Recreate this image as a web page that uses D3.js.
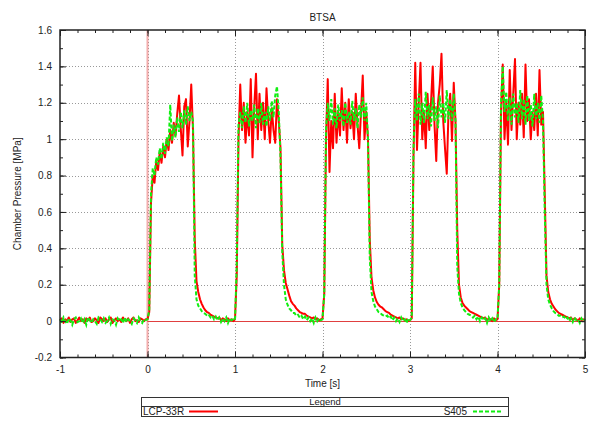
<!DOCTYPE html>
<html>
<head>
<meta charset="utf-8">
<script src="https://cdn.jsdelivr.net/npm/d3@7"></script>
<style>
  body { margin: 0; background: #fff; }
  text { font-family: "Liberation Sans", Arial, sans-serif; fill: #222; }
</style>
</head>
<body>
<svg id="svg" width="592" height="421"></svg>
<script>
// sampling of both channels: first sample time and step [s]
const t0 = -1
const dt = 0.02

// S405 chamber pressure [MPa], one value per dt from -1 s to 5 s
const s405 = [
  0.010, -0.010, 0.020, 0.000, -0.015, 0.015, 0.005, -0.020, 0.010, 0.020,
  -0.005, 0.000, 0.015, -0.010, 0.010, -0.020, 0.020, 0.005, -0.010, 0.010,
  0.000, -0.015, 0.020, 0.010, -0.005, 0.015, -0.010, 0.000, 0.020, -0.015,
  0.010, 0.005, -0.020, 0.015, 0.000, 0.010, -0.010, 0.020, -0.005, 0.010,
  0.000, -0.015, 0.015, 0.005, -0.010, 0.020, 0.000, -0.010, 0.010, 0.005,
  // 0 s
  0.010, 0.060, 0.700, 0.840, 0.800, 0.900, 0.860, 0.950, 0.890, 0.980,
  0.920, 1.010, 0.960, 1.190, 0.990, 1.080, 1.010, 1.120, 1.040, 1.150,
  1.060, 1.160, 1.080, 1.180, 1.100, 1.150, 1.100, 0.250, 0.120, 0.085,
  0.070, 0.055, 0.045, 0.040, 0.030, 0.035, 0.020, 0.030, 0.010, 0.025,
  0.005, 0.020, -0.005, 0.015, 0.000, 0.020, -0.010, 0.015, 0.005, 0.010,
  // 1 s
  0.005, 0.300, 1.080, 1.150, 1.060, 1.180, 1.090, 1.200, 1.070, 1.160,
  1.100, 1.190, 1.060, 1.170, 1.090, 1.200, 1.080, 1.150, 1.070, 1.180,
  1.100, 1.210, 1.120, 1.240, 1.290, 1.150, 0.900, 0.380, 0.200, 0.120,
  0.090, 0.070, 0.060, 0.045, 0.045, 0.030, 0.035, 0.020, 0.030, 0.010,
  0.025, 0.005, 0.020, 0.000, 0.015, -0.010, 0.020, 0.000, 0.015, 0.005,
  // 2 s
  0.010, 0.150, 1.050, 1.200, 1.100, 1.220, 1.080, 1.170, 1.060, 1.190,
  1.100, 1.160, 1.070, 1.200, 1.090, 1.150, 1.080, 1.210, 1.100, 1.170,
  1.060, 1.190, 1.120, 1.230, 1.100, 1.200, 1.000, 0.350, 0.160, 0.110,
  0.080, 0.065, 0.050, 0.045, 0.035, 0.030, 0.025, 0.030, 0.015, 0.025,
  0.005, 0.020, 0.000, 0.015, -0.005, 0.020, 0.000, 0.010, -0.010, 0.015,
  // 3 s
  0.005, 0.020, 0.950, 1.220, 1.100, 1.250, 1.080, 1.200, 1.090, 1.260,
  1.110, 1.190, 1.070, 1.230, 1.100, 1.180, 1.060, 1.240, 1.120, 1.200,
  1.090, 1.270, 1.110, 1.220, 1.100, 1.250, 1.100, 0.300, 0.150, 0.100,
  0.075, 0.060, 0.050, 0.040, 0.035, 0.030, 0.020, 0.030, 0.010, 0.025,
  0.000, 0.020, 0.005, 0.015, -0.010, 0.020, 0.000, 0.015, -0.005, 0.010,
  // 4 s
  0.010, 0.200, 1.200, 1.400, 1.150, 1.260, 1.100, 1.230, 1.080, 1.250,
  1.120, 1.200, 1.090, 1.270, 1.110, 1.220, 1.080, 1.240, 1.100, 1.190,
  1.070, 1.250, 1.110, 1.200, 1.090, 1.240, 1.100, 0.600, 0.200, 0.120,
  0.090, 0.070, 0.055, 0.045, 0.040, 0.030, 0.030, 0.020, 0.025, 0.010,
  0.020, 0.000, 0.015, -0.005, 0.020, 0.005, 0.010, -0.010, 0.015, 0.000,
  0.010
]

// LCP-33R chamber pressure [MPa], same sampling
const lcp33r = [
  0.005, 0.015, -0.010, 0.010, 0.000, 0.020, -0.005, 0.010, 0.015, -0.010,
  0.005, 0.020, 0.000, 0.010, -0.010, 0.015, 0.005, 0.020, -0.005, 0.000,
  0.015, 0.005, -0.010, 0.020, 0.010, 0.000, 0.015, -0.005, 0.010, 0.020,
  -0.010, 0.005, 0.015, 0.000, 0.010, -0.005, 0.020, 0.005, 0.000, 0.015,
  -0.010, 0.010, 0.020, 0.000, 0.005, -0.005, 0.015, 0.010, 0.000, 0.010,
  // 0 s
  0.010, 0.050, 0.650, 0.800, 0.760, 0.880, 0.830, 0.930, 0.870, 0.960,
  0.900, 1.000, 0.940, 1.050, 0.980, 1.090, 1.020, 1.140, 1.240, 1.060,
  0.910, 1.180, 1.220, 0.960, 1.100, 1.300, 1.050, 0.450, 0.220, 0.160,
  0.120, 0.095, 0.075, 0.060, 0.050, 0.045, 0.035, 0.030, 0.025, 0.020,
  0.015, 0.020, 0.005, 0.015, 0.010, 0.000, 0.015, 0.005, 0.010, 0.000,
  // 1 s
  0.010, 0.250, 1.000, 1.300, 1.050, 1.200, 0.980, 1.150, 1.020, 1.330,
  0.900, 1.180, 1.360, 1.000, 1.250, 1.050, 1.200, 1.000, 1.280, 1.100,
  0.980, 1.170, 1.050, 0.980, 1.220, 1.100, 0.950, 0.420, 0.280, 0.210,
  0.175, 0.140, 0.110, 0.095, 0.085, 0.070, 0.060, 0.050, 0.045, 0.040,
  0.040, 0.030, 0.025, 0.020, 0.015, 0.020, 0.010, 0.015, 0.005, 0.010,
  // 2 s
  0.015, 0.150, 1.000, 1.330, 0.820, 1.100, 0.950, 1.250, 0.980, 1.150,
  1.020, 1.280, 1.050, 1.200, 0.980, 1.220, 1.060, 1.150, 1.000, 1.250,
  1.080, 0.950, 1.150, 1.350, 1.000, 1.150, 1.000, 0.450, 0.240, 0.170,
  0.130, 0.105, 0.090, 0.080, 0.075, 0.065, 0.055, 0.050, 0.045, 0.035,
  0.030, 0.025, 0.020, 0.015, 0.020, 0.010, 0.015, 0.005, 0.010, 0.000,
  // 3 s
  0.005, 0.015, 0.900, 1.420, 0.940, 1.200, 1.420, 1.000, 1.150, 0.950,
  1.250, 1.050, 1.200, 1.400, 1.080, 0.880, 1.200, 1.300, 1.470, 1.100,
  0.950, 0.810, 1.150, 1.250, 0.990, 1.310, 1.100, 0.500, 0.200, 0.130,
  0.100, 0.085, 0.075, 0.065, 0.055, 0.050, 0.045, 0.040, 0.035, 0.030,
  0.025, 0.020, 0.015, 0.020, 0.005, 0.015, 0.010, 0.000, 0.015, 0.005,
  // 4 s
  0.010, 0.200, 1.150, 1.410, 1.000, 1.200, 0.970, 1.380, 1.050, 1.250,
  1.440, 1.000, 1.200, 1.080, 1.250, 1.010, 1.410, 1.100, 1.220, 1.000,
  1.150, 1.050, 1.250, 1.020, 1.380, 1.080, 1.150, 0.700, 0.250, 0.160,
  0.120, 0.095, 0.080, 0.065, 0.055, 0.045, 0.040, 0.035, 0.030, 0.025,
  0.020, 0.015, 0.020, 0.005, 0.015, 0.010, 0.000, 0.015, 0.005, 0.010,
  0.005
]

const xTicks = [-1, 0, 1, 2, 3, 4, 5]
const yTicks = [-0.2, 0, 0.2, 0.4, 0.6, 0.8, 1, 1.2, 1.4, 1.6]
const seriesNames = ["LCP-33R", "S405"]

const svg = d3.select("#svg")
const W = 592, H = 421
const m = {left: 60, right: 7, top: 30, bottom: 63.5}

const x = d3.scaleLinear().domain([-1, 5]).range([m.left, W - m.right])
const y = d3.scaleLinear().domain([-0.2, 1.6]).range([H - m.bottom, m.top])

const x0 = x.range()[0], x1 = x.range()[1]
const y0 = y.range()[0], y1 = y.range()[1]

// grid
const grid = svg.append("g").attr("stroke", "#999").attr("stroke-width", 1).attr("stroke-dasharray", "1,2")
grid.selectAll(".gx").data(xTicks.slice(1, -1)).enter().append("line")
  .attr("x1", d => Math.round(x(d)) + 0.5).attr("x2", d => Math.round(x(d)) + 0.5)
  .attr("y1", y1).attr("y2", y0)
grid.selectAll(".gy").data(yTicks.slice(1, -1)).enter().append("line")
  .attr("x1", x0).attr("x2", x1)
  .attr("y1", d => Math.round(y(d)) + 0.5).attr("y2", d => Math.round(y(d)) + 0.5)

// zero reference lines
svg.append("line")
  .attr("x1", x(0)).attr("x2", x(0)).attr("y1", y1).attr("y2", y0)
  .attr("stroke", "#f08a8a").attr("stroke-opacity", 0.7).attr("stroke-width", 2)
svg.append("line")
  .attr("x1", x(0)).attr("x2", x1).attr("y1", Math.round(y(0)) + 0.5).attr("y2", Math.round(y(0)) + 0.5)
  .attr("stroke", "#e04040").attr("stroke-width", 1)

// data
const line = d3.line().x((d, i) => x(t0 + i * dt)).y(d => y(d))
svg.append("path").datum(lcp33r)
  .attr("d", line).attr("fill", "none")
  .attr("stroke", "#ff0000").attr("stroke-width", 2).attr("stroke-linejoin", "round")
svg.append("path").datum(s405)
  .attr("d", line).attr("fill", "none")
  .attr("stroke", "#11ee11").attr("stroke-width", 2).attr("stroke-dasharray", "4,2")

// axes, ticks on all four sides, pointing inward
const frame = svg.append("g")
const mkAxis = (axis, tr) => frame.append("g").attr("transform", tr).call(axis)
  .call(g => g.select(".domain").remove())
  .call(g => g.selectAll("line").attr("stroke", "#222"))
const minorX = d3.range(-1, 5.001, 0.2), minorY = d3.range(-0.2, 1.601, 0.1)
const plain = d => String(+(+d).toFixed(1))   // gnuplot style: "-0.2", "1", no unicode minus

mkAxis(d3.axisBottom(x).tickValues(minorX).tickSize(-3).tickFormat(""), `translate(0,${y0})`)
mkAxis(d3.axisTop(x).tickValues(minorX).tickSize(-3).tickFormat(""), `translate(0,${y1})`)
mkAxis(d3.axisLeft(y).tickValues(minorY).tickSize(-3).tickFormat(""), `translate(${x0},0)`)
mkAxis(d3.axisRight(y).tickValues(minorY).tickSize(-3).tickFormat(""), `translate(${x1},0)`)

mkAxis(d3.axisBottom(x).tickValues(xTicks).tickSize(-6).tickPadding(8).tickFormat(plain), `translate(0,${y0})`)
mkAxis(d3.axisTop(x).tickValues(xTicks).tickSize(-6).tickFormat(""), `translate(0,${y1})`)
mkAxis(d3.axisLeft(y).tickValues(yTicks).tickSize(-6).tickPadding(8).tickFormat(plain), `translate(${x0},0)`)
mkAxis(d3.axisRight(y).tickValues(yTicks).tickSize(-6).tickFormat(""), `translate(${x1},0)`)
frame.selectAll("text").attr("font-size", 10).attr("font-family", "Liberation Sans, Arial, sans-serif").attr("fill", "#222")

frame.append("rect")
  .attr("x", x0).attr("y", y1).attr("width", x1 - x0).attr("height", y0 - y1)
  .attr("fill", "none").attr("stroke", "#222").attr("stroke-width", 1.5)

// titles
const cx = (x0 + x1) / 2
svg.append("text").attr("x", cx).attr("y", 21).attr("text-anchor", "middle").attr("font-size", 10).text("BTSA")
svg.append("text").attr("x", cx).attr("y", 387).attr("text-anchor", "middle").attr("font-size", 10).text("Time [s]")
svg.append("text").attr("transform", `translate(21,${(y0 + y1) / 2}) rotate(-90)`)
  .attr("text-anchor", "middle").attr("font-size", 10).text("Chamber Pressure [MPa]")

// legend
const lg = svg.append("g")
const lx0 = 141.5, lx1 = 508.5, ly0 = 397.5, lmid = 406.5, ly1 = 416.5
lg.append("rect").attr("x", lx0).attr("y", ly0).attr("width", lx1 - lx0).attr("height", ly1 - ly0)
  .attr("fill", "#fff").attr("stroke", "#333").attr("stroke-width", 1)
lg.append("line").attr("x1", lx0).attr("x2", lx1).attr("y1", lmid).attr("y2", lmid).attr("stroke", "#333")
lg.append("text").attr("x", (lx0 + lx1) / 2).attr("y", 405).attr("text-anchor", "middle").attr("font-size", 9.5).text("Legend")
lg.append("text").attr("x", 143).attr("y", 415).attr("font-size", 10).text(seriesNames[0])
lg.append("line").attr("x1", 189).attr("x2", 218).attr("y1", 411.5).attr("y2", 411.5)
  .attr("stroke", "#ff0000").attr("stroke-width", 2)
lg.append("text").attr("x", 467).attr("y", 415).attr("text-anchor", "end").attr("font-size", 10).text(seriesNames[1])
lg.append("line").attr("x1", 473).attr("x2", 502).attr("y1", 411.5).attr("y2", 411.5)
  .attr("stroke", "#11ee11").attr("stroke-width", 2).attr("stroke-dasharray", "4,2")
</script>
</body>
</html>
